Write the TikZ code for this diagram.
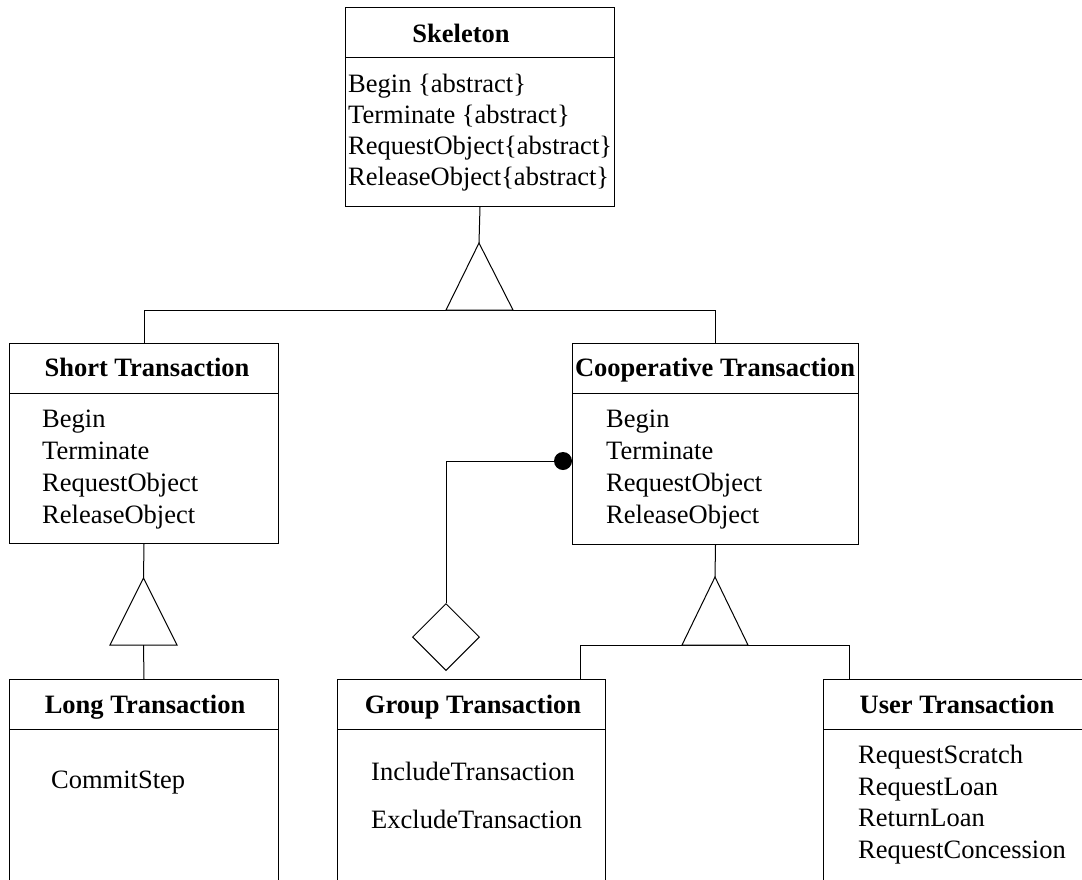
\documentclass[tikz,border=0pt]{standalone}
\usepackage{fontspec}
\setmainfont{Liberation Serif}
\usepackage{tikz}
\usetikzlibrary{positioning, shapes.geometric}

\tikzset{
    classbox/.style={draw, line width=1pt, anchor=north west, inner sep=0pt},
    classname/.style={anchor=base, inner sep=0pt, font=\fontsize{26.5}{31}\selectfont\bfseries},
    method/.style={anchor=base west, inner sep=0pt},
    inherit/.style={draw, line width=1pt, fill=white},
    link/.style={draw, line width=1pt}
}

\begin{document}
\begin{tikzpicture}[x=1pt, y=-1pt, font=\fontsize{26.5}{31}\selectfont]
    \useasboundingbox (0, 0) rectangle (1082, 879);
    \clip (0, 0) rectangle (1082, 879);

    % Skeleton class
    \node[classbox, minimum width=269pt, minimum height=199pt] (skeleton) at (345, 7) {};
    \draw[link] (skeleton.west |- 0, 57) -- (skeleton.east |- 0, 57);
    \node[classname] (skeletonname) at (461, 42) {Skeleton};
    \foreach \y/\txt [count=\i] in {92/Begin \{abstract\}, 123/Terminate \{abstract\},
                                   154/RequestObject\{abstract\}, 185/ReleaseObject\{abstract\}}{
        \node[method] (skeletonm\i) at (348, \y) {\txt};
    }

    % Short Transaction class
    \node[classbox, minimum width=269pt, minimum height=200pt] (short) at (9, 343) {};
    \draw[link] (short.west |- 0, 393) -- (short.east |- 0, 393);
    \node[classname] (shortname) at (147, 376) {Short Transaction};
    \foreach \y/\txt [count=\i] in {427/Begin, 459/Terminate, 491/RequestObject, 523/ReleaseObject}{
        \node[method] (shortm\i) at (42, \y) {\txt};
    }

    % Cooperative Transaction class
    \node[classbox, minimum width=286pt, minimum height=201pt] (coop) at (572, 343) {};
    \draw[link] (coop.west |- 0, 393) -- (coop.east |- 0, 393);
    \node[classname] (coopname) at (715, 376) {Cooperative Transaction};
    \foreach \y/\txt [count=\i] in {427/Begin, 459/Terminate, 491/RequestObject, 523/ReleaseObject}{
        \node[method] (coopm\i) at (606, \y) {\txt};
    }

    % Long Transaction class
    \node[classbox, minimum width=269pt, minimum height=240pt] (long) at (9, 679) {};
    \draw[link] (long.west |- 0, 729) -- (long.east |- 0, 729);
    \node[classname] (longname) at (145, 713) {Long Transaction};
    \node[method] (longm1) at (51, 788) {CommitStep};

    % Group Transaction class
    \node[classbox, minimum width=268pt, minimum height=240pt] (group) at (337, 679) {};
    \draw[link] (group.west |- 0, 729) -- (group.east |- 0, 729);
    \node[classname] (groupname) at (473, 713) {Group Transaction};
    \node[method] (groupm1) at (371, 780) {IncludeTransaction};
    \node[method] (groupm2) at (371, 828) {ExcludeTransaction};

    % User Transaction class
    \node[classbox, minimum width=268pt, minimum height=240pt] (user) at (823, 679) {};
    \draw[link] (user.west |- 0, 729) -- (user.east |- 0, 729);
    \node[classname] (username) at (957, 713) {User Transaction};
    \foreach \y/\txt [count=\i] in {763/RequestScratch, 795/RequestLoan, 826/ReturnLoan, 858/RequestConcession}{
        \node[method] (userm\i) at (858, \y) {\txt};
    }

    % Skeleton -> Short / Cooperative
    \coordinate (skeletonapex) at (479, 243);
    \draw[link] (skeleton.south) -- (skeletonapex);
    \draw[link] (short.north) -- ++(0, -33) -| (coop.north);
    \draw[inherit] (skeletonapex) -- (446, 310) -- (513, 310) -- cycle;

    % Short -> Long
    \coordinate (shortapex) at (143.5, 578);
    \coordinate (shortbase) at (143.5, 645);
    \draw[link] (short.south) -- (shortapex);
    \draw[inherit] (shortapex) -- (110, 645) -- (177, 645) -- cycle;
    \draw[link] (shortbase) -- (long.north);

    % Cooperative -> Group / User
    \coordinate (coopapex) at (715, 577);
    \coordinate (grouptop) at (580, 679);
    \coordinate (usertop) at (849, 679);
    \draw[link] (coop.south) -- (coopapex);
    \draw[link] (grouptop) -- ++(0, -34) -| (usertop);
    \draw[inherit] (coopapex) -- (682, 645) -- (748, 645) -- cycle;

    % Cooperative <>-- Group (aggregation)
    \node[circle, fill=black, inner sep=0pt, minimum size=18pt] (aggdot) at (563, 461) {};
    \node[diamond, draw, line width=1pt, fill=white, inner sep=0pt, minimum width=67pt, minimum height=67pt] (part) at (446, 637) {};
    \draw[link] (aggdot.center) -| (part.north);
\end{tikzpicture}
\end{document}
